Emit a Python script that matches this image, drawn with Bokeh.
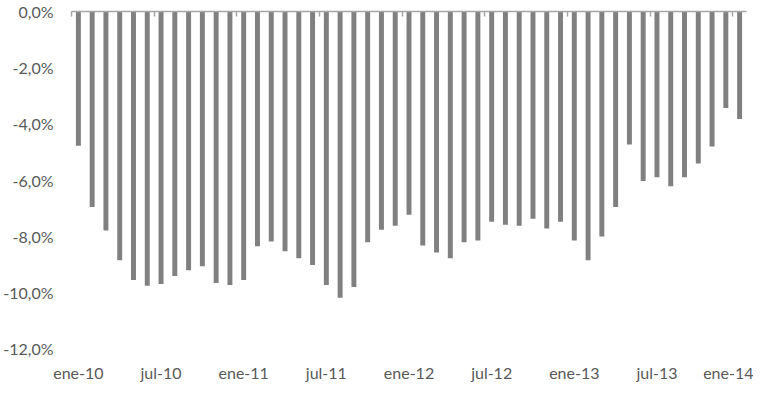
from bokeh.plotting import figure
from bokeh.models import (Range1d, FixedTicker, CustomJSTickFormatter, LinearAxis,
                          ColumnDataSource)
from bokeh.embed import file_html
from bokeh.resources import INLINE

# Monthly values, ene-10 .. ene-14 (percent)
values = [-4.78, -6.96, -7.80, -8.86, -9.56, -9.77, -9.70, -9.42, -9.21,
          -9.07, -9.67, -9.74, -9.56, -8.36, -8.19, -8.54, -8.79, -9.03,
          -9.74, -10.19, -9.81, -8.22, -7.77, -7.63, -7.24, -8.33, -8.58,
          -8.79, -8.22, -8.15, -7.49, -7.59, -7.63, -7.38, -7.73, -7.49,
          -8.15, -8.86, -8.01, -6.96, -4.74, -6.04, -5.90, -6.22, -5.90,
          -5.41, -4.81, -3.44, -3.83]
tick_labels = ["ene-10", "jul-10", "ene-11", "jul-11", "ene-12",
               "jul-12", "ene-13", "jul-13", "ene-14"]
y_ticks = [0, -2, -4, -6, -8, -10, -12]

n = len(values)
idx = list(range(n))
src = ColumnDataSource(dict(x=idx, v=values, zero=[0] * n))

FONT = "Lato"
TXT = "#595959"

p = figure(width=753, height=384, output_backend="svg", toolbar_location=None,
           x_range=Range1d(-0.5, n - 0.5), y_range=Range1d(-12, 0),
           min_border_left=71, min_border_right=7, min_border_top=11,
           min_border_bottom=32)
p.outline_line_color = None
p.xgrid.visible = False
p.ygrid.visible = False

p.vbar(x="x", width=0.36, top="zero", bottom="v", source=src,
       fill_color="#808080", line_color=None)

# bottom category labels
p.xaxis.ticker = FixedTicker(ticks=[i * 6 for i in range(len(tick_labels))])
p.xaxis.formatter = CustomJSTickFormatter(args=dict(labels=tick_labels),
                                          code="return labels[Math.round(tick/6)] || '';")
p.xaxis.axis_line_color = None
p.xaxis.major_tick_line_color = None
p.xaxis.minor_tick_line_color = None
p.xaxis.major_tick_out = 0
p.xaxis.major_tick_in = 0
p.xaxis.major_label_standoff = 14
p.xaxis.major_label_text_font = FONT
p.xaxis.major_label_text_font_size = "16px"
p.xaxis.major_label_text_color = TXT

# left value axis
p.yaxis.ticker = FixedTicker(ticks=y_ticks)
p.yaxis.formatter = CustomJSTickFormatter(
    code="return tick.toFixed(1).replace('.', ',') + '%';")
p.yaxis.axis_line_color = None
p.yaxis.major_tick_line_color = None
p.yaxis.minor_tick_line_color = None
p.yaxis.major_tick_out = 0
p.yaxis.major_tick_in = 0
p.yaxis.major_label_standoff = 18
p.yaxis.major_label_text_font = FONT
p.yaxis.major_label_text_font_size = "16px"
p.yaxis.major_label_text_color = TXT

# zero line with tick marks (category axis crossing at 0)
top_axis = LinearAxis(ticker=FixedTicker(ticks=[i * 6 - 0.5 for i in range(9)]),
                      formatter=CustomJSTickFormatter(code="return '';"))
top_axis.axis_line_color = "#a6a6a6"
top_axis.axis_line_width = 1.5
top_axis.major_tick_line_color = "#a6a6a6"
top_axis.major_tick_line_width = 1.5
top_axis.major_tick_in = 5
top_axis.major_tick_out = 0
top_axis.minor_tick_line_color = None
top_axis.major_label_standoff = 0
top_axis.major_label_text_font_size = "0px"
p.add_layout(top_axis, "above")

open("out.html", "w").write(file_html(p, INLINE))
